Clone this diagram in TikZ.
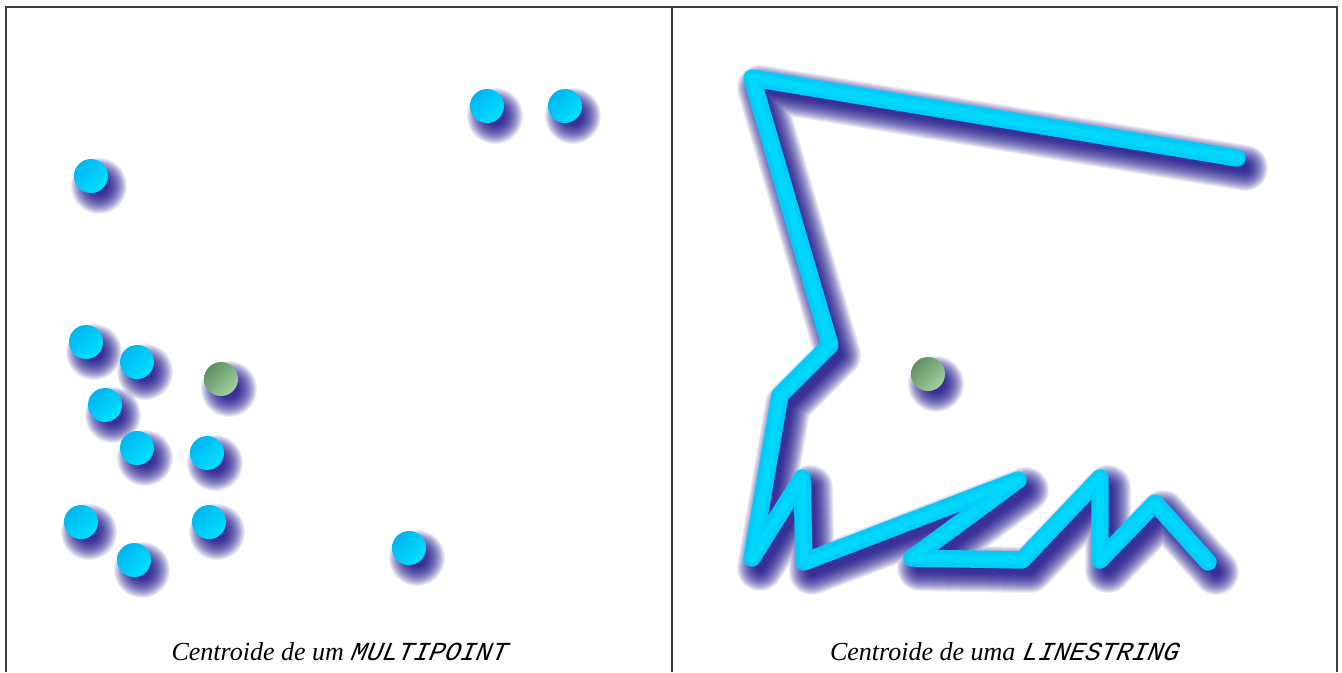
\documentclass[tikz,border=0pt]{standalone}
\usepackage{fontspec}
\setmainfont{Liberation Serif}
\setmonofont{Liberation Mono}[FakeSlant=0.2]
\usetikzlibrary{shadings}
\definecolor{shadowcol}{RGB}{10,0,130}
\definecolor{cyanA}{RGB}{0,172,238}
\definecolor{cyanB}{RGB}{0,232,255}
\definecolor{cyanM}{RGB}{0,204,250}
\definecolor{greenA}{RGB}{80,130,80}
\definecolor{greenB}{RGB}{176,224,176}
\definecolor{greenM}{RGB}{128,176,128}
\definecolor{framecol}{RGB}{60,60,60}
\begin{document}
\begin{tikzpicture}[x=0.75pt,y=-0.75pt,
  frameline/.style={framecol,line width=1.2pt},
  caption/.style={font=\fontsize{19.5pt}{22pt}\selectfont\itshape, anchor=base, inner sep=0pt},
  dotshadow/.style={fill=shadowcol, opacity=0.075},
  lineshadow/.style={draw=shadowcol, opacity=0.075, line cap=round, line join=round},
  linebody/.style={draw=cyanM, line width=13pt, line cap=round, line join=round},
  cyandot/.style={upper left=cyanA, lower right=cyanB, upper right=cyanM, lower left=cyanM},
  greendot/.style={upper left=greenA, lower right=greenB, upper right=greenM, lower left=greenM}]
\useasboundingbox (0,0) rectangle (1342,672);
\fill[white] (0,0) rectangle (1342,672);
% frame
\draw[frameline] (6,672) -- (6,7) -- (1337,7) -- (1337,672);
\draw[frameline] (672,7) -- (672,672);
% ---- left panel: multipoint
\def\dotlist{91/176,487/106,565/106,86/342,137/362,105/405,137/448,207/453,81/522,209/522,134/560,409/548}
\foreach \x/\y in \dotlist {
  \foreach \k in {0,...,19} {
    \fill[dotshadow] (\x+8,\y+10) circle ({9+\k*1.0});
  }
}
\foreach \k in {0,...,19} {
  \fill[dotshadow] (221+8,379+10) circle ({9+\k*1.0});
}
\foreach \x/\y in \dotlist {
  \shade[cyandot] (\x,\y) circle (17);
}
\shade[greendot] (221,379) circle (17);
% ---- right panel: linestring
\def\lspath{(1237,158) -- (752,78) -- (830,345) -- (780,395) -- (752,558) -- (802,478) -- (804,562) -- (1018,480) -- (912,558) -- (1022,560) -- (1100,478) -- (1100,560) -- (1155,503) -- (1208,562)}
\foreach \k in {0,...,19} {
  \draw[lineshadow, line width={(8+\k*2.0)*0.75pt}, shift={(8,10)}] \lspath;
}
\foreach \k in {0,...,19} {
  \fill[dotshadow] (928+8,374+10) circle ({9+\k*1.0});
}
\draw[linebody] \lspath;
\draw[draw=cyanB, opacity=0.4, line width=6pt, line cap=round, line join=round] \lspath;
\shade[greendot] (928,374) circle (17);
% captions
\node[caption] (capL) at (339,660) {Centroide de um \texttt{MULTIPOINT}};
\node[caption] (capR) at (1004,660) {Centroide de uma \texttt{LINESTRING}};
\end{tikzpicture}
\end{document}
